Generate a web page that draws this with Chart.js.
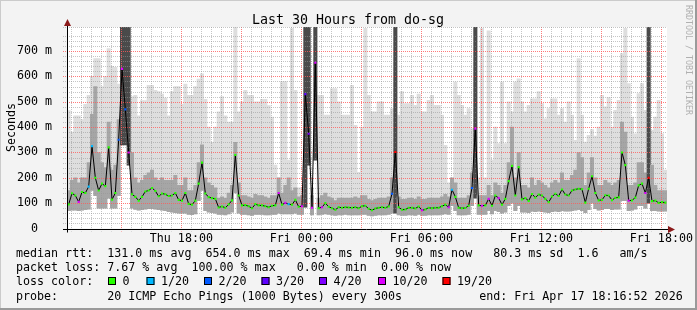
<!DOCTYPE html>
<html>
<head>
<meta charset="utf-8">
<script src="https://cdn.jsdelivr.net/npm/chart.js@4.4.0/dist/chart.umd.min.js"></script>
<style>
  body { margin: 0; background: #f3f3f3; }
  #wrap { width: 697px; height: 310px; }
</style>
</head>
<body>
<div id="wrap"><canvas id="ping" width="697" height="310"></canvas></div>
<script>
// one sample every 10 minutes, starting Thu 12:16:52 (x in minutes since start)
const stepMin = 10;
const startOffset = 16.867; // minutes past 12:00 on Thu

const medianRtt = [
  95,139,130,105,144,140,165,325,200,150,
  177,167,320,114,140,350,630,470,300,135,
  125,110,125,146,150,160,148,127,138,135,
  128,130,140,113,110,140,97,94,110,177,
  260,138,124,120,117,83,87,82,95,111,
  290,130,91,92,88,80,96,91,91,88,
  84,90,91,140,94,101,96,94,113,86,
  88,530,374,82,654,80,84,100,86,80,
  74,84,82,84,83,82,84,80,88,90,
  78,72,79,82,84,82,87,137,302,84,
  74,75,82,82,79,87,72,75,82,80,
  82,82,88,94,84,153,125,82,80,81,
  90,160,394,91,90,91,117,90,130,120,
  94,117,187,247,130,242,115,120,109,136,
  122,134,130,117,104,126,137,128,154,134,
  130,150,154,157,155,102,157,206,140,111,
  113,131,130,112,121,123,300,250,110,111,
  122,170,177,140,200,108,110,101,104,102
];

// lost pings out of 20 for each sample
const lossCount = [
  0,0,0,10,0,0,1,1,0,0,
  0,0,0,0,0,2,10,2,10,0,
  0,0,0,0,0,0,0,0,0,0,
  0,0,0,0,0,0,0,0,0,0,
  0,0,0,0,0,0,0,0,0,0,
  0,0,0,0,0,0,0,0,0,0,
  0,0,0,10,0,10,1,0,0,0,
  10,3,4,10,10,0,10,0,0,0,
  0,0,0,0,0,0,0,0,0,0,
  0,0,0,0,0,0,0,2,19,0,
  0,0,0,0,0,0,10,0,0,0,
  0,0,0,0,10,1,0,0,0,0,
  0,2,10,0,10,0,10,0,0,10,
  0,0,0,0,0,0,0,0,0,0,
  0,0,0,0,0,0,0,0,0,0,
  0,0,0,0,0,0,0,0,0,0,
  0,0,0,0,0,0,0,0,10,0,
  0,0,0,10,19,0,0,0,0,0
];

// smoke: lowest ping, upper edge of the dense band, highest ping
const smokeLow = [
  70,72,72,70,72,74,76,150,130,80,
  80,80,120,80,80,130,330,330,250,80,
  75,72,74,76,78,78,76,74,72,70,
  66,64,62,60,60,60,56,55,58,110,
  150,70,64,62,60,56,56,54,58,64,
  140,60,56,56,54,52,56,56,56,54,
  54,56,56,60,58,58,58,58,60,56,
  56,84,250,54,270,54,56,58,56,54,
  52,54,54,56,54,54,54,54,56,56,
  52,50,52,54,54,54,56,60,60,54,
  52,52,54,54,52,56,52,52,54,54,
  54,54,56,58,56,90,70,54,54,54,
  56,90,120,56,56,56,70,58,70,66,
  60,64,90,100,70,90,64,64,62,68,
  66,68,66,64,62,66,68,66,70,68,
  68,70,72,74,70,62,74,100,78,72,
  74,78,78,74,76,76,110,110,70,72,
  76,90,90,80,100,70,70,68,68,68
];
const smokeBand = [
  150,190,200,180,200,200,260,450,560,300,
  260,240,420,230,250,430,800,800,800,300,
  200,180,190,210,220,230,200,190,200,190,
  190,190,210,170,170,200,150,150,170,260,
  330,200,180,170,160,120,125,120,140,170,
  340,180,130,130,125,120,135,130,130,125,
  120,130,130,200,140,170,200,150,160,125,
  130,800,800,130,800,120,130,140,125,120,
  110,120,120,120,120,120,125,120,130,130,
  115,110,115,120,120,120,125,200,800,125,
  115,115,120,120,115,125,115,115,120,120,
  120,120,125,135,125,200,180,120,120,120,
  130,220,800,130,130,130,170,130,180,170,
  140,170,260,400,200,300,170,170,160,200,
  170,190,180,170,160,180,190,180,220,190,
  190,210,230,300,280,170,220,280,200,170,
  170,190,180,170,180,190,420,380,170,170,
  180,260,260,220,800,250,170,150,150,150
];
const smokeHigh = [
  465,380,445,445,430,490,525,600,670,670,
  560,600,710,640,636,570,800,800,800,520,
  525,445,505,505,565,565,545,540,530,515,
  445,540,560,560,490,570,525,525,560,590,
  610,510,400,340,400,460,520,445,420,420,
  800,460,500,545,525,525,500,500,510,510,
  485,440,250,200,580,580,270,790,545,160,
  160,800,720,160,800,525,525,447,447,552,
  552,500,447,447,447,565,407,222,400,790,
  525,460,460,500,500,447,447,473,800,447,
  540,493,493,525,486,530,460,460,506,525,
  486,486,447,328,180,180,578,525,486,447,
  473,394,800,200,790,200,780,270,400,335,
  578,335,500,460,578,591,500,460,486,512,
  512,540,493,433,473,512,512,447,473,420,
  500,447,348,670,447,341,368,390,365,400,
  525,480,517,400,466,506,690,790,572,440,
  374,532,572,466,800,387,440,506,374,230
];

const lossSteps = [0, 1, 2, 3, 4, 10, 19];
const lossColors = ['#26ff00', '#00b8ff', '#0059ff', '#5e00ff', '#7e00ff', '#dd00ff', '#ff0000'];
const lossNames = ['0', '1/20', '2/20', '3/20', '4/20', '10/20', '19/20'];

const xTickLabels = ['Thu 18:00', 'Fri 00:00', 'Fri 06:00', 'Fri 12:00', 'Fri 18:00'];
const xTickMinutes = [343.13, 703.13, 1063.13, 1423.13, 1783.13];

const legendLines = [
  'median rtt:  131.0 ms avg  654.0 ms max  69.4 ms min  96.0 ms now   80.3 ms sd  1.6   am/s',
  'packet loss: 7.67 % avg  100.00 % max   0.00 % min  0.00 % now',
  'loss color:',
  'probe:       20 ICMP Echo Pings (1000 Bytes) every 300s           end: Fri Apr 17 18:16:52 2026'
];

const MONO = '"DejaVu Sans Mono", "Liberation Mono", monospace';
const MAJOR = 'rgba(255,90,90,0.8)';
const MINOR = 'rgba(150,150,150,0.55)';
const xAt = i => stepMin / 2 + i * stepMin;
const colorFor = n => lossColors[lossSteps.indexOf(n)];
const isMajorX = v => {
  const r = ((v + 12 * 60 + startOffset) % 180 + 180) % 180;
  return r < 0.5 || r > 179.5;
};

function drawGrid(chart) {
  const { ctx, chartArea: a, scales: { x, y } } = chart;
  ctx.save();
  ctx.lineWidth = 1;
  ctx.setLineDash([1, 1]);
  x.ticks.forEach(t => {
    const px = Math.round(x.getPixelForValue(t.value)) + 0.5;
    ctx.strokeStyle = isMajorX(t.value) ? MAJOR : MINOR;
    ctx.beginPath();
    ctx.moveTo(px, a.top);
    ctx.lineTo(px, a.bottom + 3);
    ctx.stroke();
  });
  y.ticks.forEach(t => {
    if (t.value === 0) return;
    const py = Math.round(y.getPixelForValue(t.value)) + 0.5;
    ctx.strokeStyle = t.value % 100 === 0 ? MAJOR : MINOR;
    ctx.beginPath();
    ctx.moveTo(a.left - 4, py);
    ctx.lineTo(a.right, py);
    ctx.stroke();
  });
  ctx.restore();
}

const frame = {
  id: 'frame',
  beforeDraw(chart) {
    const { ctx, chartArea: a } = chart;
    ctx.save();
    ctx.fillStyle = '#f3f3f3';
    ctx.fillRect(0, 0, chart.width, chart.height);
    ctx.fillStyle = '#ffffff';
    ctx.fillRect(a.left, a.top, a.right - a.left, a.bottom - a.top);
    ctx.restore();
  },
  afterDatasetDraw(chart, args) {
    // grid sits over the smoke but under the median line
    if (args.index === 1) drawGrid(chart);
  },
  afterDraw(chart) {
    const { ctx, chartArea: a, scales: { x } } = chart;
    const yb = Math.round(a.bottom) + 0.5;
    const xl = Math.round(a.left) + 0.5;
    ctx.save();
    // axes
    ctx.strokeStyle = '#000';
    ctx.lineWidth = 1;
    ctx.beginPath();
    ctx.moveTo(63, yb);
    ctx.lineTo(670, yb);
    ctx.moveTo(xl, a.bottom + 4);
    ctx.lineTo(xl, 24);
    ctx.stroke();
    ctx.fillStyle = '#8b1a1a';
    ctx.beginPath();
    ctx.moveTo(675, yb);
    ctx.lineTo(668, yb - 3.5);
    ctx.lineTo(668, yb + 3.5);
    ctx.fill();
    ctx.beginPath();
    ctx.moveTo(xl, 19);
    ctx.lineTo(xl - 3.5, 26);
    ctx.lineTo(xl + 3.5, 26);
    ctx.fill();

    // time labels, placed by the x scale
    ctx.fillStyle = '#000';
    ctx.font = '11.66px ' + MONO;
    ctx.textAlign = 'center';
    ctx.textBaseline = 'alphabetic';
    xTickLabels.forEach((lab, k) => {
      ctx.fillText(lab, x.getPixelForValue(xTickMinutes[k]), 241.5);
    });

    // title and axis name
    ctx.font = '13.3px ' + MONO;
    ctx.fillText('Last 30 Hours from do-sg', 348, 24);
    ctx.font = '11.66px ' + MONO;
    ctx.save();
    ctx.translate(15, 127.5);
    ctx.rotate(-Math.PI / 2);
    ctx.fillText('Seconds', 0, 0);
    ctx.restore();

    // watermark
    ctx.save();
    ctx.fillStyle = '#b0b0b0';
    ctx.font = '8.3px ' + MONO;
    ctx.translate(685.5, 5);
    ctx.rotate(Math.PI / 2);
    ctx.textAlign = 'left';
    ctx.fillText('RRDTOOL / TOBI OETIKER', 0, 0);
    ctx.restore();

    // legend
    ctx.textAlign = 'left';
    ctx.font = '11.66px ' + MONO;
    ctx.fillStyle = '#000';
    const base = [257.3, 271.3, 285.3, 299.5];
    legendLines.forEach((t, k) => ctx.fillText(t, 16, base[k]));
    const boxX = [108, 146.5, 204, 261.5, 319, 378, 442.5];
    lossNames.forEach((name, k) => {
      ctx.fillStyle = lossColors[k];
      ctx.fillRect(boxX[k], 277, 8, 8);
      ctx.strokeStyle = '#000';
      ctx.strokeRect(boxX[k] + 0.5, 277.5, 7, 7);
      ctx.fillStyle = '#000';
      ctx.fillText(name, boxX[k] + 14.5, base[2]);
    });

    // canvas frame
    ctx.fillStyle = '#cbcbcb';
    ctx.fillRect(0, 0, chart.width, 1);
    ctx.fillRect(0, 0, 1, chart.height);
    ctx.fillStyle = '#9a9a9a';
    ctx.fillRect(chart.width - 2, 0, 2, chart.height);
    ctx.fillRect(0, chart.height - 2, chart.width, 2);
    ctx.restore();
  }
};

const idx = medianRtt.map((_, i) => i);

new Chart(document.getElementById('ping'), {
  type: 'bar',
  data: {
    datasets: [
      {
        type: 'line',
        order: 0,
        data: idx.map(i => ({ x: xAt(i), y: medianRtt[i] })),
        borderColor: '#000',
        borderWidth: 1,
        tension: 0,
        pointStyle: 'rect',
        pointRadius: 1.5,
        pointBorderWidth: 0,
        pointBackgroundColor: lossCount.map(colorFor)
      },
      {
        order: 1,
        grouped: false,
        barThickness: 3.34,
        data: idx.map(i => ({ x: xAt(i), y: [smokeLow[i], smokeBand[i]] })),
        backgroundColor: idx.map(i => smokeBand[i] >= 790 ? '#4a4a4a' : '#a6a6a6')
      },
      {
        order: 2,
        grouped: false,
        barThickness: 3.34,
        data: idx.map(i => ({ x: xAt(i), y: [smokeLow[i], smokeHigh[i]] })),
        backgroundColor: '#dedede'
      }
    ]
  },
  options: {
    responsive: false,
    animation: false,
    events: [],
    layout: { padding: { left: 0, top: 27, right: 30, bottom: 61.5 } },
    plugins: { legend: { display: false }, tooltip: { enabled: false } },
    scales: {
      x: {
        type: 'linear',
        min: 0,
        max: 1800,
        offset: false,
        afterFit: s => { s.height = 20; },
        afterBuildTicks: s => {
          const t = [];
          for (let m = 30 - startOffset; m < 1800; m += 30) t.push({ value: m });
          s.ticks = t;
        },
        border: { display: false },
        grid: { display: false },
        ticks: { display: false, autoSkip: false }
      },
      y: {
        min: 0,
        max: 795,
        afterFit: s => { s.width = 67; },
        border: { display: false },
        grid: { display: false },
        ticks: {
          stepSize: 20,
          autoSkip: false,
          padding: 7,
          color: '#000',
          font: { family: MONO, size: 11.66 },
          callback: v => v % 100 === 0 ? (v === 0 ? '0  ' : v + ' m') : ''
        }
      }
    }
  },
  plugins: [frame]
});
</script>
</body>
</html>
